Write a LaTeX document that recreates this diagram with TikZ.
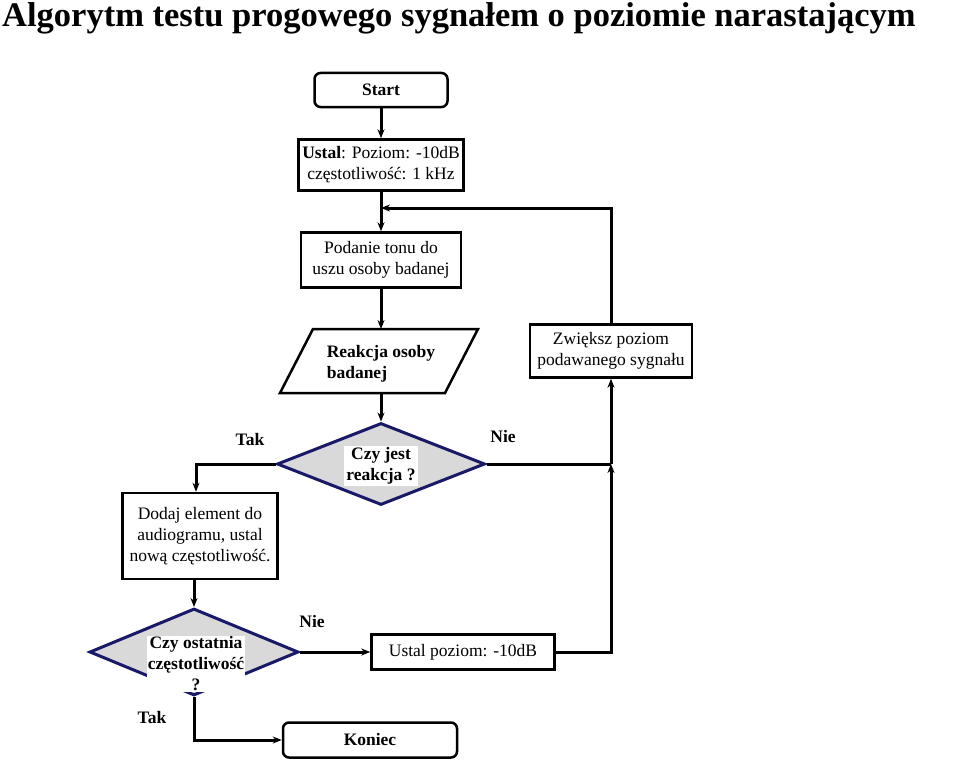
\documentclass[tikz,border=0pt]{standalone}
\usepackage{fontspec}
\setmainfont{Liberation Serif}
\usetikzlibrary{shapes.geometric,arrows.meta}
\begin{document}
\begin{tikzpicture}[x=1pt,y=-1pt,
  box/.style={draw,line width=2.5pt,inner sep=0pt,font=\fontsize{17.5}{21}\selectfont,align=center},
  rbox/.style={box,rounded corners=6pt},
  dia/.style={draw=blue!35!black!90,line width=3pt,fill=gray!30,diamond,inner sep=0pt},
  wl/.style={fill=white,inner sep=2pt,font=\bfseries\fontsize{17.5}{21}\selectfont,align=center},
  lab/.style={font=\bfseries\fontsize{17.5}{21}\selectfont},
  conn/.style={draw,line width=3pt},
  arr/.style={draw,line width=3pt,-{Stealth[length=9pt,width=7pt]}}]
\useasboundingbox (0,0) rectangle (959,760);
\node[font=\bfseries\fontsize{34.5}{40}\selectfont,anchor=west,inner sep=0pt] (title) at (2,18) {Algorytm testu progowego sygnałem o poziomie narastającym};
\node[rbox,minimum width=133pt,minimum height=34pt,font=\bfseries\fontsize{17.5}{21}\selectfont] (start) at (381,90) {Start};
\node[box,minimum width=165pt,minimum height=51pt] (ustal) at (381,165) {\textbf{Ustal}: Poziom: -10dB\\częstotliwość: 1 kHz};
\node[box,minimum width=160pt,minimum height=55pt] (podanie) at (381,260) {Podanie tonu do\\uszu osoby badanej};
\draw[line width=2.5pt,line join=miter] (313,329) -- (478,329) -- (445,393) -- (280,393) -- cycle;
\node[font=\bfseries\fontsize{17.5}{21}\selectfont,align=left] (reak) at (381,364) {Reakcja osoby\\badanej};
\coordinate (reakb) at (381,393);
\coordinate (reakt) at (381,329);
\node[box,minimum width=162pt,minimum height=53pt] (zw) at (611,351) {Zwiększ poziom\\podawanego sygnału};
\node[dia,minimum width=208pt,minimum height=82pt] (d1) at (381,464) {};
\node[wl] (d1t) at (381,466) {Czy jest\\reakcja ?};
\node[box,minimum width=155pt,minimum height=86pt] (dodaj) at (200,536) {Dodaj element do\\audiogramu, ustal\\nową częstotliwość.};
\node[dia,minimum width=209pt,minimum height=87pt] (d2) at (194,652) {};
\node[wl,inner sep=1pt] (d2t) at (196,664) {Czy ostatnia\\częstotliwość\\?};
\node[box,minimum width=183pt,minimum height=35pt] (up) at (463,652) {Ustal poziom: -10dB};
\node[rbox,minimum width=174pt,minimum height=35pt,font=\bfseries\fontsize{17.5}{21}\selectfont] (kon) at (370,740) {Koniec};
\node[lab] (tak1) at (250,440) {Tak};
\node[lab] (nie1) at (503,437) {Nie};
\node[lab] (nie2) at (312,622) {Nie};
\node[lab] (tak2) at (152,718) {Tak};
\coordinate (j1) at (381,208);
\coordinate (c1) at (611,208);
\coordinate (c2) at (611,464);
\coordinate (c3) at (611,652);
\coordinate (c4) at (196,464);
\coordinate (c5) at (194,740);
\draw[arr] (start) -- (ustal);
\draw[arr] (ustal) -- (podanie);
\draw[arr] (podanie) -- (reakt);
\draw[arr] (reakb) -- (d1);
\draw[arr] (zw.north) -- (c1) -- (j1);
\draw[conn] (d1.east) -- (c2);
\draw[arr] (c2) -- (zw.south);
\draw[arr] (up.east) -- (c3) -- (c2);
\draw[arr] (d1.west) -- (c4) -- (c4 |- dodaj.north);
\draw[arr] (194,579) -- (d2.north);
\draw[arr] (d2.east) -- (up.west);
\draw[arr] (d2.south) -- (c5) -- (kon.west);
\end{tikzpicture}
\end{document}
